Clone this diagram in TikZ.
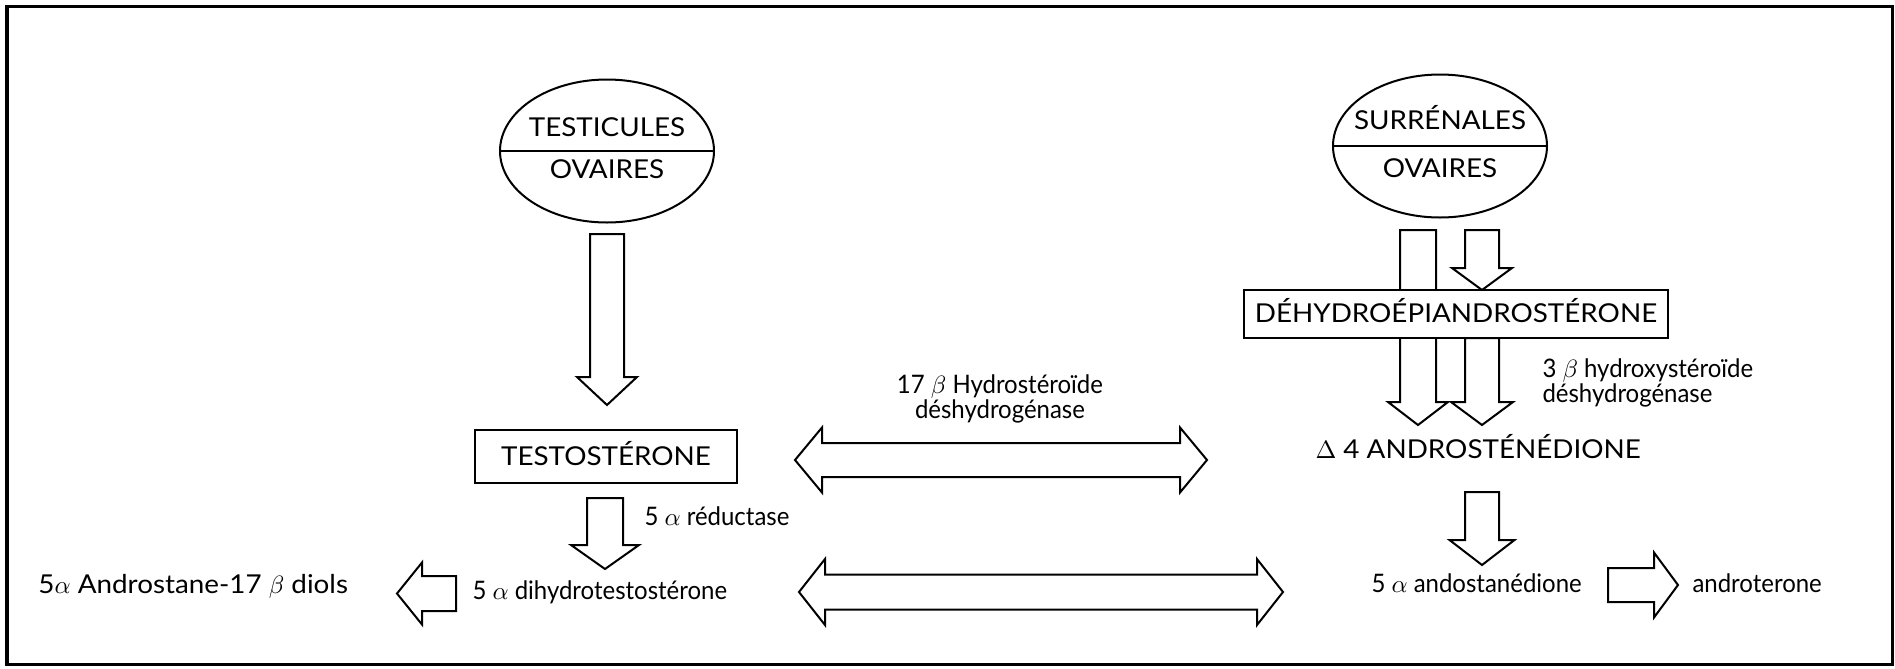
\documentclass[tikz,border=0pt]{standalone}
\usepackage{fontspec}
\setmainfont{Lato}
\newfontfamily\widefont{Lato}[FakeStretch=1.07]
\newfontfamily\lowfont{Lato}[FakeStretch=0.94]
\usetikzlibrary{shapes.geometric}
\newcommand\arrDown[6]{% cx, ytop, ybase, ytip, halfshaft, halfhead
  \draw[blk] ({#1-#5},#2) -- ({#1+#5},#2) -- ({#1+#5},#3) -- ({#1+#6},#3) -- (#1,#4)
    -- ({#1-#6},#3) -- ({#1-#5},#3) -- cycle;}
\newcommand\arrSide[6]{% cy, xback, xbase, xtip, halfshaft, halfhead
  \draw[blk] (#2,{#1-#5}) -- (#3,{#1-#5}) -- (#3,{#1-#6}) -- (#4,#1) -- (#3,{#1+#6})
    -- (#3,{#1+#5}) -- (#2,{#1+#5}) -- cycle;}
\newcommand\arrBoth[7]{% cy, xtipL, xbaseL, xbaseR, xtipR, halfshaft, halfhead
  \draw[blk] (#2,#1) -- (#3,{#1-#7}) -- (#3,{#1-#6}) -- (#4,{#1-#6}) -- (#4,{#1-#7})
    -- (#5,#1) -- (#4,{#1+#7}) -- (#4,{#1+#6}) -- (#3,{#1+#6}) -- (#3,{#1+#7}) -- cycle;}
\begin{document}
\begin{tikzpicture}[x=0.4pt,y=-0.4pt,
  blk/.style={draw, line width=0.8pt, fill=white, line join=miter},
  lbl/.style={inner sep=0pt, font=\lowfont\fontsize{10.2}{12}\selectfont},
  caps/.style={inner sep=0pt, font=\widefont\fontsize{10.4}{12}\selectfont},
  organ/.style={ellipse, draw, line width=0.8pt, minimum width=85.6pt, minimum height=57.2pt, inner sep=0pt},
  hbox/.style={draw, line width=0.8pt, fill=white, inner sep=0pt}]
\useasboundingbox (0,0) rectangle (1895,668);
\draw[line width=1.2pt] (7,6) rectangle (1892,664);

% ---- left column
\node[organ] (testes) at (607,151) {};
\draw[line width=0.8pt] (testes.west) -- (testes.east);
\node[caps, anchor=base] (testicules) at (607,136) {TESTICULES};
\node[caps, anchor=base] (ovairesL) at (607,178) {OVAIRES};
\arrDown{607}{234}{377}{405}{17}{30}
\node[hbox, minimum width=104.8pt, minimum height=21.2pt] (testo) at (606,456.5) {};
\node[caps, anchor=base] (testotxt) at (606,465) {TESTOSTÉRONE};
\arrDown{605}{498}{545}{569}{18}{34}
\node[lbl, anchor=base west] (reduct) at (644,525) {5 $\alpha$ réductase};
\node[lbl, anchor=base west] (dht) at (472,599) {5 $\alpha$ dihydrotestostérone};
\arrSide{593.5}{456}{422}{397}{17.5}{31}
\node[caps, anchor=base west] (diols) at (38,593) {5$\alpha$ Androstane-17 $\beta$ diols};

% ---- middle double arrows
\node[lbl, anchor=base] (hsd17) at (1000,393) {17 $\beta$ Hydrostéroïde};
\node[lbl, anchor=base] (hsd17b) at (1000,418) {déshydrogénase};
\arrBoth{460}{795}{822}{1180}{1207}{17}{32.5}
\arrBoth{592}{799}{825}{1257}{1283}{17.5}{33}

% ---- right column
\node[organ] (surr) at (1440,146) {};
\draw[line width=0.8pt] (surr.west) -- (surr.east);
\node[caps, anchor=base] (surrtxt) at (1440,129) {SURRÉNALES};
\node[caps, anchor=base] (ovairesR) at (1440,177) {OVAIRES};
\arrDown{1418}{230}{402}{425}{18}{30}
\arrDown{1482}{338}{402}{425}{17}{31}
\node[hbox, minimum width=169.6pt, minimum height=19.2pt] (dhea) at (1456,314) {};
\node[caps, anchor=base] (dheatxt) at (1456,322.5) {DÉHYDROÉPIANDROSTÉRONE};
\arrDown{1482}{230}{268}{290}{17}{30}
\node[lbl, anchor=base west] (hsd3) at (1542,377) {3 $\beta$ hydroxystéroïde};
\node[lbl, anchor=base west] (hsd3b) at (1542,402) {déshydrogénase};
\node[caps, anchor=base west] (andro) at (1315,458) {$\Delta$ 4 ANDROSTÉNÉDIONE};
\arrDown{1482}{492}{540}{565}{17}{32.5}
\node[lbl, anchor=base west] (andostane) at (1371,592) {5 $\alpha$ andostanédione};
\arrSide{585}{1608}{1654}{1678}{17}{32.5}
\node[lbl, anchor=base west] (androterone) at (1692,592) {androterone};
\end{tikzpicture}
\end{document}
